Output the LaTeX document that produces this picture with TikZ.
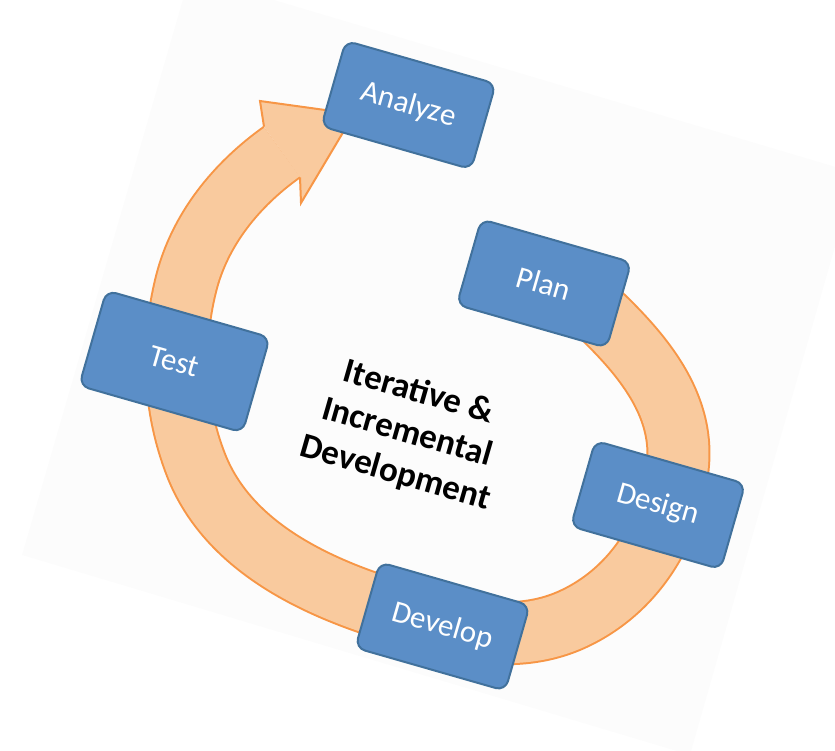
\documentclass[tikz,border=0pt]{standalone}
\usepackage{fontspec}
\setmainfont{Carlito}
\definecolor{boxfill}{RGB}{91,142,199}
\definecolor{boxline}{RGB}{65,113,156}
\definecolor{ringfill}{RGB}{249,202,158}
\definecolor{ringline}{RGB}{247,150,70}
\definecolor{slidebg}{RGB}{252,252,252}

\begin{document}
\begin{tikzpicture}[x=1pt,y=-1pt]
\tikzset{phase/.style={draw=boxline,fill=boxfill,line width=2pt,rounded corners=10pt,rotate=-16,
  minimum width=156pt,minimum height=89pt,inner sep=0pt,text=white,font=\fontsize{31}{37}\selectfont},
  ring/.style={draw=ringline,line width=2pt,double=ringfill,double distance=60pt}}
\useasboundingbox (0,0) rectangle (835,751);

% the tilted slide behind everything
\fill[slidebg] (190,-25) -- (856,173) -- (690,755) -- (22,555) -- cycle;

% big circular arrow, from under Plan round to Analyze
\coordinate (ringstart) at (575,291);
\coordinate (ringend) at (282,152);
\draw[ring] (ringstart) .. controls (627.6,338.4) and (684.2,393.5) .. (678,464)
  .. controls (672.1,531.5) and (632.9,592.4) .. (571,620)
  .. controls (508.1,648) and (437.2,626.2) .. (372,604)
  .. controls (297.8,578.7) and (224.5,538) .. (196,465)
  .. controls (173.5,407.3) and (171,344.1) .. (186,284)
  .. controls (199.6,229.6) and (236.3,184.5) .. (ringend);
\coordinate (notchout) at (264,126.7);
\coordinate (barbout) at (260,101);
\coordinate (tip) at (354,114);
\coordinate (barbin) at (301,203);
\coordinate (notchin) at (300,177.3);
\fill[ringfill] (notchout) -- (barbout) -- (tip) -- (barbin) -- (notchin) -- cycle;
\draw[ringline,line width=2pt,line join=miter] (notchout) -- (barbout) -- (tip) -- (barbin) -- (notchin);

\node[phase] (analyze) at (408.5,105) {Analyze};
\node[phase] (plan) at (544,283.5) {Plan};
\node[phase] (design) at (658,505) {Design};
\node[phase] (develop) at (442.5,626.5) {Develop};
\node[phase,minimum width=170pt,minimum height=99pt] (test) at (174.5,361.5) {Test};

\node[rotate=-16,align=center,font=\bfseries\fontsize{35}{42}\selectfont] (title) at (407,433)
  {Iterative \&\\Incremental\\Development};
\end{tikzpicture}
\end{document}
